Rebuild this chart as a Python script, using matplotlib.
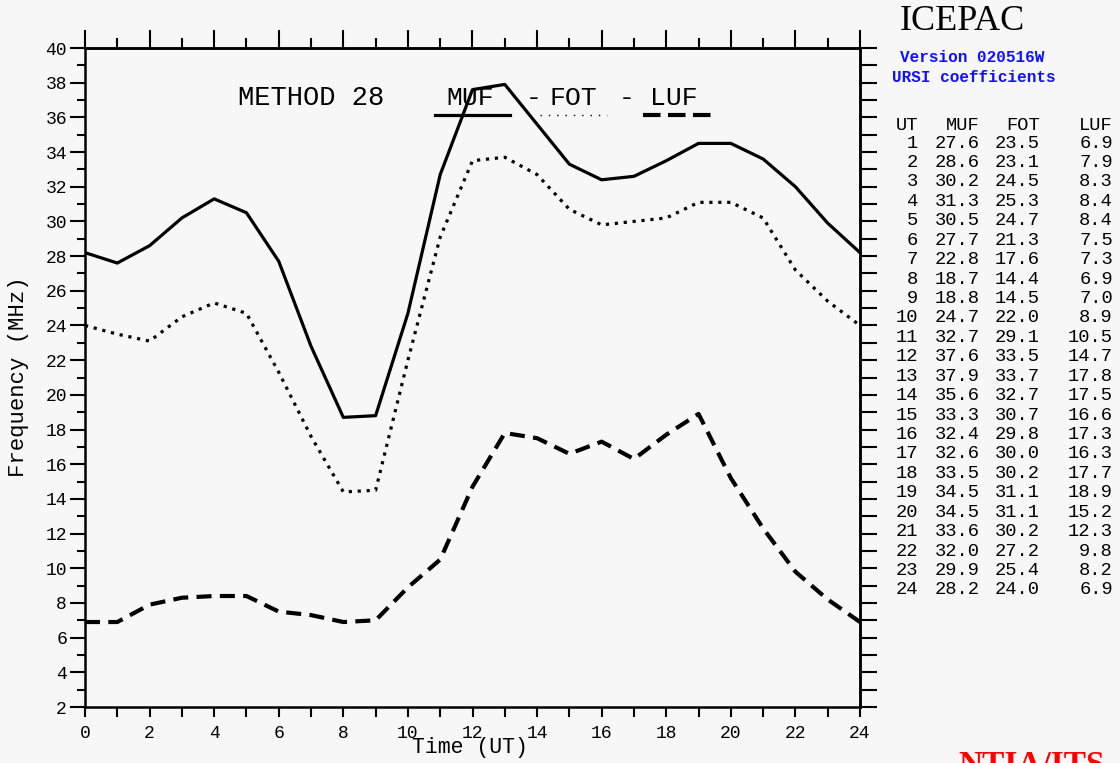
#!/usr/bin/env python3
"""ICEPAC method 28 MUF / FOT / LUF chart over one UT day."""

from __future__ import annotations

import matplotlib

matplotlib.use("Agg")
import matplotlib.pyplot as plt
import numpy as np
from matplotlib.lines import Line2D


UT_HOURS = list(range(1, 25))
MUF = [27.6, 28.6, 30.2, 31.3, 30.5, 27.7, 22.8, 18.7, 18.8, 24.7, 32.7, 37.6,
       37.9, 35.6, 33.3, 32.4, 32.6, 33.5, 34.5, 34.5, 33.6, 32.0, 29.9, 28.2]
FOT = [23.5, 23.1, 24.5, 25.3, 24.7, 21.3, 17.6, 14.4, 14.5, 22.0, 29.1, 33.5,
       33.7, 32.7, 30.7, 29.8, 30.0, 30.2, 31.1, 31.1, 30.2, 27.2, 25.4, 24.0]
LUF = [6.9, 7.9, 8.3, 8.4, 8.4, 7.5, 7.3, 6.9, 7.0, 8.9, 10.5, 14.7,
       17.8, 17.5, 16.6, 17.3, 16.3, 17.7, 18.9, 15.2, 12.3, 9.8, 8.2, 6.9]

X_TICKS = list(range(0, 25, 2))
Y_TICKS = list(range(2, 41, 2))

W, H = 1120, 763
BG = "#f6f7f6"
MONO = "Liberation Mono"
SERIF = "Liberation Serif"


def fx(px: float) -> float:
    return px / W


def fy(py: float) -> float:
    return 1.0 - py / H


def day_series(values: list[float]) -> tuple[np.ndarray, np.ndarray]:
    """Hour 24 is also drawn at hour 0."""
    x = np.r_[0, UT_HOURS]
    y = np.r_[values[-1], values]
    return x, y


def main() -> int:
    plt.rcParams["font.family"] = [MONO, "DejaVu Sans Mono"]
    fig = plt.figure(figsize=(W / 100, H / 100), dpi=100, facecolor=BG)
    ax = fig.add_axes([fx(85), fy(707), fx(860) - fx(85), fy(48) - fy(707)])
    ax.set_facecolor(BG)

    x, y = day_series(MUF)
    ax.plot(x, y, color="black", linewidth=2.3, solid_joinstyle="round")
    x, y = day_series(FOT)
    ax.plot(x, y, color="black", linewidth=2.3, linestyle=(0, (1, 1.8)))
    x, y = day_series(LUF)
    ax.plot(x, y, color="black", linewidth=3.0, linestyle=(0, (3.6, 2.0)))

    ax.set_xlim(0, 24)
    ax.set_ylim(2, 40)
    ax.set_xticks(X_TICKS)
    ax.set_yticks(Y_TICKS)
    ax.set_xticks(range(1, 24, 2), minor=True)
    ax.set_yticks(range(3, 40, 2), minor=True)
    ax.tick_params(axis="x", which="both", direction="out", length=7, width=1.5,
                   labelsize=13, pad=6)
    ax.tick_params(axis="y", which="major", direction="out", length=11, width=1.5,
                   labelsize=13, pad=2)
    ax.tick_params(axis="y", which="minor", direction="out", length=6, width=1.5)
    for spine in ax.spines.values():
        spine.set_linewidth(1.8)

    top = ax.secondary_xaxis("top")
    top.set_xticks(X_TICKS)
    top.set_xticks(range(1, 24, 2), minor=True)
    top.tick_params(which="major", direction="out", length=13, width=1.5, labeltop=False)
    top.tick_params(which="minor", direction="out", length=7, width=1.5)
    top.spines["top"].set_linewidth(1.8)

    right = ax.secondary_yaxis("right")
    right.set_yticks(Y_TICKS)
    right.set_yticks(range(3, 40, 2), minor=True)
    right.tick_params(which="both", direction="out", length=12, width=1.5, labelright=False)
    right.spines["right"].set_linewidth(1.8)

    ax.set_xlabel("Time (UT)", fontsize=15.5)
    ax.xaxis.set_label_coords(0.497, -0.046)
    fig.text(fx(19), fy(377), "Frequency (MHz)", fontsize=16, rotation=90,
             ha="center", va="center")

    # title line with legend samples
    fig.text(fx(238), fy(98), "METHOD 28", fontsize=19.5, va="center", ha="left")
    fig.text(fx(446), fy(98), "MUF", fontsize=19, va="center", ha="left")
    fig.text(fx(526), fy(98), "-", fontsize=19, va="center", ha="left")
    fig.text(fx(550), fy(98), "FOT", fontsize=19, va="center", ha="left")
    fig.text(fx(619), fy(98), "-", fontsize=19, va="center", ha="left")
    fig.text(fx(650), fy(98), "LUF", fontsize=19, va="center", ha="left")
    fig.add_artist(Line2D([fx(435), fx(510)], [fy(115), fy(115)], color="black",
                          linewidth=2.3, transform=fig.transFigure))
    fig.add_artist(Line2D([fx(540), fx(607)], [fy(115), fy(115)], color="black",
                          linewidth=1.0, linestyle=(0, (1, 5)), transform=fig.transFigure))
    fig.add_artist(Line2D([fx(643), fx(718)], [fy(115), fy(115)], color="black",
                          linewidth=3.0, linestyle=(0, (4.2, 1.8)), transform=fig.transFigure))

    # side panel
    fig.text(fx(962), fy(21), "ICEPAC", family=SERIF, fontsize=26, ha="center", va="center")
    fig.text(fx(900), fy(57), "Version 020516W", fontsize=11.5, color="#1010ff",
             ha="left", va="center", weight="bold")
    fig.text(fx(892), fy(77), "URSI coefficients", fontsize=11.5, color="#1010ff",
             ha="left", va="center", weight="bold")

    col_right = [918, 980, 1040, 1113]
    for right_px, head in zip(col_right, ["UT", "MUF", "FOT", "LUF"]):
        fig.text(fx(right_px), fy(125), head, fontsize=13.5, ha="right", va="center")
    row_step = (590 - 143) / 23
    for i, (hour, m, f, l) in enumerate(zip(UT_HOURS, MUF, FOT, LUF)):
        py = 143 + i * row_step
        cells = [f"{hour}", f"{m:.1f}", f"{f:.1f}", f"{l:.1f}"]
        for right_px, cell in zip(col_right, cells):
            fig.text(fx(right_px), fy(py), cell, fontsize=13.5, ha="right", va="center")

    fig.text(fx(958), fy(750), "NTIA/ITS", family=SERIF, fontsize=24, weight="bold",
             color="red", ha="left", va="top")

    fig.savefig("out.png", dpi=100, facecolor=BG)
    plt.close(fig)
    return 0


if __name__ == "__main__":
    raise SystemExit(main())
